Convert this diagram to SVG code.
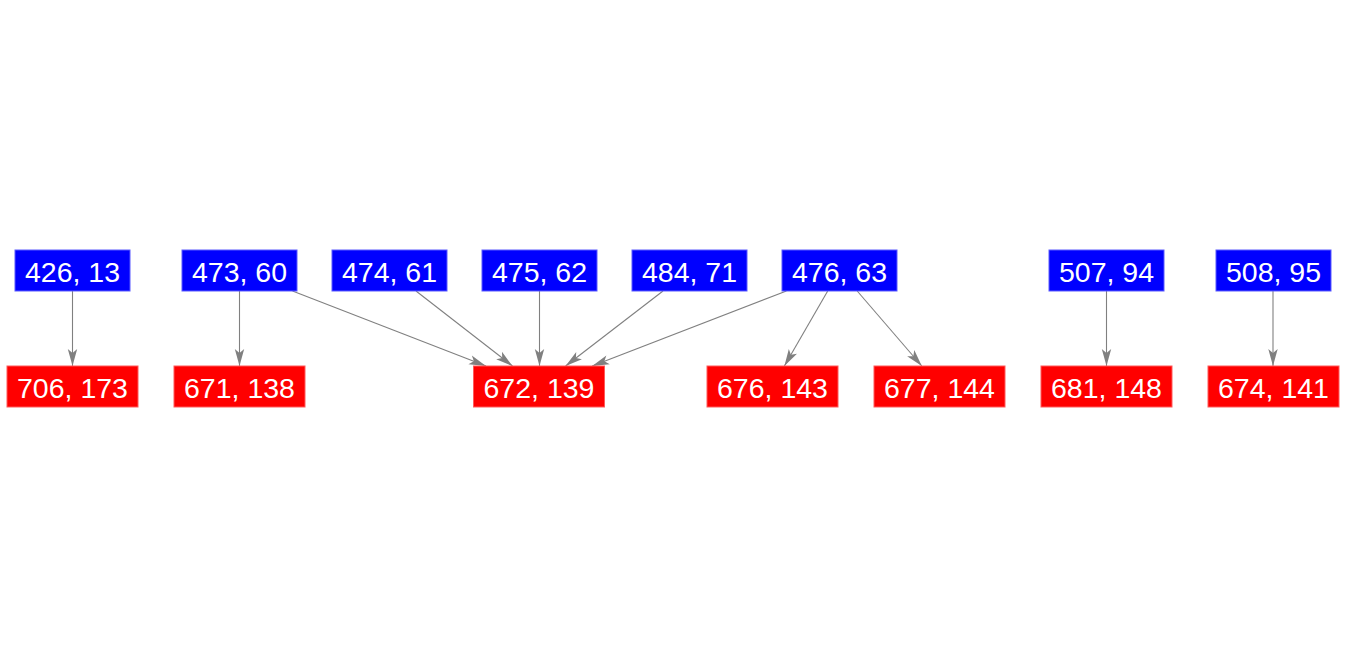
<svg xmlns="http://www.w3.org/2000/svg" width="1346" height="656" viewBox="0 0 1346 656">
<style>
.b{fill:#0000ff;stroke:#5a5aff;stroke-width:1}
.r{fill:#ff0000;stroke:#ff5a5a;stroke-width:1}
text{font-family:"Liberation Sans",Arial,sans-serif;font-size:28.5px;fill:#ffffff;text-anchor:middle}
.e{stroke:#808080;stroke-width:1.1;fill:none;marker-end:url(#ah)}
</style>
<defs>
<marker id="ah" markerUnits="userSpaceOnUse" markerWidth="18" markerHeight="10" refX="17" refY="5" orient="auto" overflow="visible">
<path d="M0,0.3 L17,5 L0,9.7 L4,5 Z" fill="#808080"/>
</marker>
</defs>
<rect width="1346" height="656" fill="#ffffff"/>
<g id="connectors">
<line class="e" x1="72.5" y1="291" x2="72.5" y2="366"/>
<line class="e" x1="239.5" y1="291" x2="239.5" y2="366"/>
<line class="e" x1="292.5" y1="291" x2="486" y2="366"/>
<line class="e" x1="416" y1="291" x2="512.5" y2="366"/>
<line class="e" x1="539.5" y1="291" x2="539.5" y2="366"/>
<line class="e" x1="663" y1="291" x2="565.6" y2="366"/>
<line class="e" x1="786.4" y1="291" x2="592.2" y2="366"/>
<line class="e" x1="827.7" y1="291" x2="784.4" y2="366"/>
<line class="e" x1="857.2" y1="291" x2="921.8" y2="366"/>
<line class="e" x1="1106.5" y1="291" x2="1106.5" y2="366"/>
<line class="e" x1="1273" y1="291" x2="1273" y2="366"/>
</g>
<g id="n426"><rect class="b" x="15" y="250" width="115" height="41"/><text x="72.5" y="281.5">426, 13</text></g>
<g id="n473"><rect class="b" x="182" y="250" width="115" height="41"/><text x="239.5" y="281.5">473, 60</text></g>
<g id="n474"><rect class="b" x="332" y="250" width="115" height="41"/><text x="389.5" y="281.5">474, 61</text></g>
<g id="n475"><rect class="b" x="482" y="250" width="115" height="41"/><text x="539.5" y="281.5">475, 62</text></g>
<g id="n484"><rect class="b" x="632" y="250" width="115" height="41"/><text x="689.5" y="281.5">484, 71</text></g>
<g id="n476"><rect class="b" x="782" y="250" width="115" height="41"/><text x="839.5" y="281.5">476, 63</text></g>
<g id="n507"><rect class="b" x="1049" y="250" width="115" height="41"/><text x="1106.5" y="281.5">507, 94</text></g>
<g id="n508"><rect class="b" x="1216" y="250" width="115" height="41"/><text x="1273.5" y="281.5">508, 95</text></g>
<g id="n706"><rect class="r" x="7" y="366" width="131" height="41"/><text x="72.5" y="398">706, 173</text></g>
<g id="n671"><rect class="r" x="174" y="366" width="131" height="41"/><text x="239.5" y="398">671, 138</text></g>
<g id="n672"><rect class="r" x="473.5" y="366" width="131" height="41"/><text x="539" y="398">672, 139</text></g>
<g id="n676"><rect class="r" x="707" y="366" width="131" height="41"/><text x="772.5" y="398">676, 143</text></g>
<g id="n677"><rect class="r" x="874" y="366" width="131" height="41"/><text x="939.5" y="398">677, 144</text></g>
<g id="n681"><rect class="r" x="1041" y="366" width="131" height="41"/><text x="1106.5" y="398">681, 148</text></g>
<g id="n674"><rect class="r" x="1208" y="366" width="131" height="41"/><text x="1273.5" y="398">674, 141</text></g>
</svg>
